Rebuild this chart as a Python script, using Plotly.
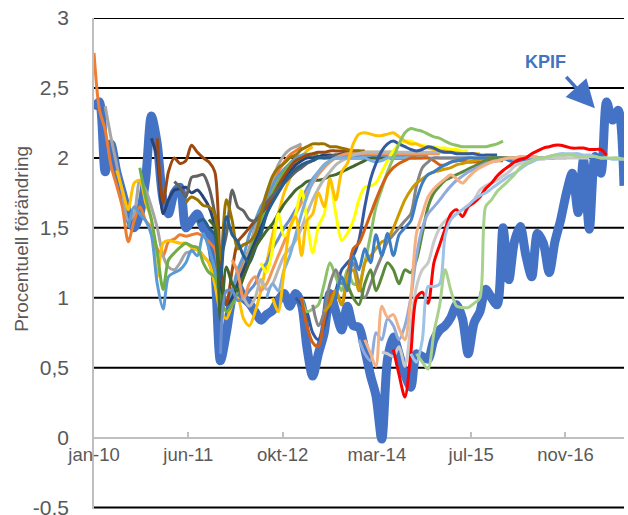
import pandas as pd
import plotly.graph_objects as go

# ---------------- data ----------------
kpif_start = "2010-01"
kpif_values = [
    2.35, 2.4, 1.9, 2.1, 1.9, 1.75, 1.6, 1.5, 1.6, 1.85,
    2.3, 2.1, 1.7, 1.6, 1.75, 1.79, 1.5, 1.55, 1.6, 1.5,
    1.45, 1.2, 0.55, 0.75, 1.0, 1.08, 1.0, 0.96, 0.9, 0.84,
    0.88, 0.91, 0.98, 1.03, 0.94, 1.03, 0.95, 0.65, 0.44, 0.6,
    0.75, 1.03, 0.9, 0.77, 0.94, 0.8, 0.79, 0.63, 0.44, 0.3,
    -0.01, 0.56, 0.72, 0.6, 0.45, 0.36, 0.6, 0.58, 0.56, 0.7,
    0.77, 0.8, 0.86, 0.95, 0.85, 0.6, 0.82, 0.9, 1.06, 1.0,
    0.95, 1.5, 1.13, 1.4, 1.51, 1.3, 1.15, 1.46, 1.39, 1.18,
    1.4, 1.56, 1.75, 1.89, 1.61, 1.99, 1.49, 2.01, 1.89, 2.4,
    2.27, 2.34, 1.8,
]

fc_starts = [
    "2010-01", "2010-03", "2010-05", "2010-07", "2010-09", "2010-11",
    "2010-12", "2011-03", "2011-05", "2011-07", "2011-09", "2011-11",
    "2012-01", "2012-03", "2012-06", "2012-07", "2012-08", "2012-12",
    "2013-01", "2013-01", "2013-03", "2013-05", "2013-07", "2013-09",
    "2013-11", "2013-12", "2014-03", "2014-05", "2014-08", "2014-09",
]

fc_colors = [
    "#ED7D31", "#A5A5A5", "#FFC000", "#5B9BD5", "#70AD47", "#264478",
    "#9E480E", "#636363", "#997300", "#255E91", "#43682B", "#698ED0",
    "#F1975A", "#B7B7B7", "#FFFF00", "#7CAFDD", "#FFC000", "#335AA1",
    "#8CC168", "#D26012", "#848484", "#CC9A00", "#3C7DC4", "#5A8A39",
    "#8FAADC", "#F4B183", "#C9C9C9", "#FF0000", "#9DC3E6", "#A9D18E",
]

fc01 = [2.75, 2.35, 2.2, 1.95, 1.8, 1.65, 1.4, 1.55, 1.65, 1.55, 1.5, 1.35, 1.3, 1.4, 1.42,
        1.45, 1.44, 1.45, 1.46, 1.44, 1.4, 1.35, 1.1, 1.0, 1.05, 1.15, 1.25, 1.35, 1.5, 1.6,
        1.7, 1.8, 1.9, 1.97, 2.02, 2.05, 2.08]
fc02 = [2.37, 2.15, 1.95, 1.75, 1.55, 1.6, 1.84, 1.77, 1.65, 1.5, 1.3, 1.22, 1.2, 1.25, 1.32,
        1.33, 1.35, 1.3, 1.25, 1.1, 0.95, 0.98, 1.05, 1.12, 1.22, 1.35, 1.5, 1.62, 1.75, 1.85,
        1.95, 2.02, 2.06, 2.08, 2.1]
fc03 = [1.91, 1.77, 1.63, 1.82, 1.84, 1.68, 1.56, 1.15, 1.39, 1.41, 1.4, 1.39, 1.39, 1.36, 1.34,
        1.3, 1.25, 1.1, 0.9, 0.85, 0.95, 1.0, 0.85, 0.8, 0.9, 1.05, 1.25, 1.45, 1.6, 1.75,
        1.85, 1.95, 2.0, 2.05, 2.08]
fc04 = [1.5, 1.65, 1.6, 1.55, 1.45, 1.1, 0.92, 1.15, 1.18, 1.2, 1.25, 1.34, 1.3, 1.46, 1.35,
        1.2, 1.0, 0.95, 1.05, 1.2, 1.3, 1.45, 1.55, 1.65, 1.72, 1.8, 1.87, 1.92, 1.96, 2.0,
        2.02, 2.03]
fc05 = [1.93, 1.72, 1.56, 1.32, 1.06, 1.27, 1.32, 1.36, 1.39, 1.37, 1.36, 1.25, 1.18, 1.15, 1.0,
        0.9, 0.95, 1.05, 1.15, 1.3, 1.45, 1.55, 1.65, 1.75, 1.83, 1.9, 1.95, 1.98, 2.0, 2.0,
        2.02, 2.02]
fc06 = [2.14, 2.0, 1.6, 1.7, 1.77, 1.78, 1.79, 1.75, 1.77, 1.72, 1.65, 1.5, 1.1, 0.95, 1.0,
        1.1, 1.2, 1.3, 1.4, 1.5, 1.6, 1.7, 1.78, 1.85, 1.9, 1.95, 1.98, 2.0, 2.0, 2.01,
        2.02, 2.02, 2.02, 2.03, 2.03, 2.03, 2.03]
fc07 = [2.14, 1.68, 1.9, 2.0, 1.96, 1.98, 2.09, 2.04, 2.0, 1.97, 1.9, 1.22, 0.95, 1.2, 1.4,
        1.45, 1.5, 1.55, 1.6, 1.65, 1.72, 1.8, 1.87, 1.93, 1.98, 2.0, 2.02, 2.03, 2.04, 2.04,
        2.05, 2.05, 2.05, 2.05, 2.05, 2.05, 2.05]
fc08 = [1.83, 1.79, 1.72, 1.86, 1.87, 1.88, 1.79, 1.6, 1.29, 1.45, 1.77, 1.65, 1.62, 1.56, 1.55,
        1.6, 1.68, 1.73, 1.78, 1.82, 1.86, 1.9, 1.93, 1.96, 1.98, 2.0, 2.0, 2.01, 2.02, 2.02,
        2.02, 2.02, 2.02, 2.03, 2.03, 2.03, 2.03]
fc09 = [1.68, 1.72, 1.7, 1.66, 1.65, 1.6, 1.27, 1.7, 1.55, 1.35, 1.38, 1.4, 1.45, 1.6, 1.75,
        1.87, 1.93, 1.96, 2.0, 2.02, 2.06, 2.08, 2.1, 2.1, 2.1, 2.08, 2.08, 2.07, 2.06, 2.05,
        2.05, 2.04, 2.04, 2.04, 2.04, 2.04, 2.04]
fc10 = [1.54, 1.56, 1.5, 1.45, 1.13, 1.58, 1.45, 1.4, 1.3, 1.25, 1.35, 1.45, 1.6, 1.68, 1.75,
        1.82, 1.88, 1.92, 1.95, 1.97, 1.98, 2.0, 2.0, 2.0, 2.0, 2.0, 2.0, 2.0, 2.0, 2.0,
        2.0, 2.0, 2.0, 2.0, 2.0, 2.0, 2.0]
fc11 = [1.56, 1.5, 0.84, 1.22, 1.1, 1.05, 1.15, 1.25, 1.36, 1.42, 1.48, 1.53, 1.6, 1.67, 1.72,
        1.77, 1.8, 1.83, 1.84, 1.84, 1.85, 1.87, 1.88, 1.9, 1.92, 1.94, 1.96, 1.98, 2.0, 2.0,
        2.0, 2.0, 2.0, 2.0, 2.0, 2.0, 2.0]
fc12 = [0.6, 1.05, 1.05, 0.98, 1.0, 1.05, 1.1, 1.2, 1.25, 1.35, 1.42, 1.5, 1.56, 1.63, 1.7,
        1.78, 1.85, 1.9, 1.95, 1.98, 2.0, 2.01, 2.02, 2.02, 2.02, 2.02, 2.02, 2.02, 2.02, 2.02,
        2.02, 2.02, 2.02, 2.02, 2.02, 2.02, 2.02]
fc13 = [1.27, 1.18, 0.99, 1.1, 1.15, 1.05, 1.1, 1.2, 1.3, 1.4, 1.5, 1.6, 1.68, 1.75, 1.82,
        1.88, 1.93, 1.97, 2.0, 2.02, 2.03, 2.03, 2.03, 2.03, 2.03, 2.03, 2.03, 2.03, 2.03, 2.03,
        2.03, 2.03, 2.03, 2.03, 2.03, 2.03, 2.03]
fc14 = [1.0, 0.94, 1.0, 1.13, 1.06, 1.1, 1.2, 1.3, 1.35, 1.41, 1.5, 1.6, 1.7, 1.78, 1.85,
        1.9, 1.95, 1.98, 2.0, 2.02, 2.03, 2.04, 2.04, 2.04, 2.04, 2.04, 2.04, 2.04, 2.04, 2.04,
        2.04, 2.04, 2.04, 2.04, 2.04, 2.04, 2.04]
fc15 = [1.25, 1.18, 1.35, 1.6, 1.44, 1.49, 1.6, 1.77, 1.56, 1.32, 1.51, 1.6, 1.84, 1.6, 1.41,
        1.46, 1.55, 1.7, 1.79, 1.8, 1.82, 1.9, 1.98, 2.05, 2.1, 2.12, 2.12, 2.1, 2.09, 2.08,
        2.08, 2.07, 2.07, 2.06, 2.06, 2.05, 2.05]
fc16 = [1.0, 1.1, 1.05, 1.2, 1.3, 1.45, 1.6, 1.72, 1.83, 1.9, 1.95, 1.98, 2.0, 2.0, 2.0,
        2.0, 2.0, 2.0, 1.98, 1.97, 1.98, 2.0, 2.0, 2.0, 2.0, 2.0, 2.0, 2.0, 2.0, 2.0,
        2.0, 2.0, 2.0, 2.0, 2.0, 2.0]
fc17 = [1.0, 0.9, 1.2, 1.5, 1.58, 1.3, 1.55, 1.6, 1.75, 1.65, 1.85, 1.7, 1.9, 1.96, 2.1,
        2.17, 2.18, 2.17, 2.16, 2.16, 2.17, 2.18, 2.15, 2.12, 2.1, 2.1, 2.08, 2.07, 2.06, 2.05,
        2.05, 2.04, 2.04, 2.03, 2.03, 2.03, 2.03]
fc18 = [1.0, 0.95, 0.9, 0.75, 0.7, 0.8, 0.95, 1.05, 1.2, 1.25, 1.3, 1.41, 1.65, 1.85, 1.96,
        2.05, 2.1, 2.12, 2.1, 2.08, 2.06, 2.05, 2.06, 2.08, 2.07, 2.05, 2.04, 2.04, 2.03, 2.03,
        2.03, 2.03, 2.02, 2.02, 2.02, 2.02]
fc19 = [1.0, 0.9, 0.92, 0.95, 1.1, 1.25, 1.15, 1.05, 1.2, 1.1, 1.1, 1.25, 1.45, 1.65, 1.78,
        1.9, 2.0, 2.1, 2.18, 2.21, 2.2, 2.19, 2.17, 2.15, 2.14, 2.12, 2.1, 2.09, 2.08, 2.08,
        2.08, 2.08, 2.08, 2.09, 2.1, 2.12]
fc20 = [1.0, 0.8, 0.68, 0.65, 0.85, 1.0, 1.05, 0.95, 1.15, 1.35, 1.39, 1.49, 1.6, 1.7, 1.8,
        1.88, 1.93, 1.96, 1.98, 2.0, 2.0, 2.0, 2.0, 1.98, 1.95, 1.95, 1.97, 1.98, 1.98, 1.97,
        1.97, 1.97, 1.98, 1.98, 1.98, 1.98]
fc21 = [0.95, 0.8, 0.9, 1.1, 1.2, 1.1, 1.15, 1.25, 1.1, 1.0, 1.1, 1.2, 1.3, 1.4, 1.45,
        1.5, 1.55, 1.6, 1.8, 1.93, 1.97, 2.0, 2.0, 2.0, 2.0, 2.0, 2.0, 2.0, 2.0, 2.0,
        2.0, 2.0, 2.0, 2.0, 2.0, 2.0, 2.0]
fc22 = [0.9, 0.95, 1.05, 0.95, 1.15, 1.2, 1.05, 1.25, 1.3, 1.35, 1.4, 1.42, 1.5, 1.6, 1.7,
        1.77, 1.82, 1.85, 1.88, 1.9, 1.91, 1.92, 1.93, 1.95, 1.96, 1.97, 1.98, 1.99, 2.0, 2.0,
        2.0, 2.0, 2.0, 2.0, 2.0, 2.0, 2.0]
fc23 = [1.0, 1.15, 1.05, 1.3, 1.2, 1.35, 1.25, 1.45, 1.3, 1.46, 1.3, 1.45, 1.5, 1.55, 1.7,
        1.82, 1.88, 1.9, 1.93, 1.95, 1.97, 1.98, 1.99, 2.0, 2.0, 2.0, 2.0, 2.0, 2.0, 2.0,
        1.98, 1.97, 1.98, 1.98, 1.99, 2.0, 2.0]
fc24 = [1.1, 1.0, 0.95, 1.1, 1.2, 1.05, 1.15, 1.25, 1.2, 1.1, 1.2, 1.18, 1.27, 1.46, 1.65,
        1.75, 1.8, 1.84, 1.86, 1.88, 1.9, 1.92, 1.94, 1.96, 1.98, 2.0, 2.0, 2.0, 2.0, 2.0,
        2.0, 2.0, 2.0, 2.0, 2.0, 2.0, 2.0]
fc25 = [0.7, 0.6, 0.55, 0.75, 0.7, 0.85, 0.8, 0.7, 0.8, 1.0, 1.3, 1.5, 1.6, 1.65, 1.7,
        1.75, 1.8, 1.84, 1.87, 1.9, 1.92, 1.94, 1.96, 1.97, 1.98, 1.99, 2.0, 2.0, 2.0, 2.0,
        2.0, 2.0, 2.0, 2.0, 2.0, 2.0, 2.0]
fc26 = [0.7, 0.6, 0.51, 0.94, 0.86, 0.88, 0.78, 0.7, 1.0, 1.46, 1.6, 1.72, 1.78, 1.82, 1.85,
        1.88, 1.85, 1.82, 1.86, 1.9, 1.93, 1.95, 1.97, 1.98, 1.99, 2.0, 2.0, 2.01, 2.01, 2.01,
        2.01]
fc27 = [0.61, 0.6, 0.58, 0.65, 0.51, 0.8, 1.08, 1.2, 1.25, 1.4, 1.5, 1.55, 1.58, 1.6, 1.63,
        1.66, 1.7, 1.77, 1.8, 1.82, 1.84, 1.87, 1.9, 1.94, 1.96, 1.97, 1.98, 1.99, 1.99, 2.0,
        2.0, 2.0, 2.0, 2.0, 2.0, 2.0, 2.0]
fc28 = [0.63, 0.45, 0.29, 0.6, 1.0, 1.04, 0.96, 1.25, 1.38, 1.49, 1.6, 1.63, 1.58, 1.65, 1.68,
        1.72, 1.78, 1.82, 1.87, 1.91, 1.94, 1.97, 1.99, 2.0, 2.03, 2.05, 2.07, 2.08, 2.09, 2.09,
        2.08, 2.07, 2.07, 2.07, 2.06, 2.06, 2.06, 2.02]
fc29 = [0.6, 0.54, 0.7, 1.08, 1.08, 1.1, 1.44, 1.56, 1.6, 1.63, 1.66, 1.7, 1.73, 1.75, 1.78,
        1.81, 1.84, 1.87, 1.89, 1.92, 1.95, 1.97, 1.99, 2.0, 2.01, 2.02, 2.03, 2.03, 2.03, 2.03,
        2.02, 2.02, 2.01, 2.0, 2.0, 1.99, 1.99, 1.99]
fc30 = [0.6, 0.54, 0.49, 0.75, 0.95, 1.2, 1.05, 0.94, 0.93, 0.93, 0.96, 1.0, 1.65, 1.7, 1.76,
        1.8, 1.84, 1.88, 1.93, 1.96, 1.98, 2.0, 2.0, 2.01, 2.02, 2.02, 2.02, 2.02, 2.01, 2.01,
        2.01, 2.01, 2.0, 2.0, 2.0, 2.0, 1.99]

fc_values = [fc01, fc02, fc03, fc04, fc05, fc06, fc07, fc08, fc09, fc10,
             fc11, fc12, fc13, fc14, fc15, fc16, fc17, fc18, fc19, fc20,
             fc21, fc22, fc23, fc24, fc25, fc26, fc27, fc28, fc29, fc30]

x_tick_dates = ["2010-01-31", "2011-06-13", "2012-10-23", "2014-03-05", "2015-07-16", "2016-11-25"]
x_tick_labels = ["jan-10", "jun-11", "okt-12", "mar-14", "jul-15", "nov-16"]
y_tick_values = [-0.5, 0, 0.5, 1, 1.5, 2, 2.5, 3]
y_tick_labels = ["-0,5", "0", "0,5", "1", "1,5", "2", "2,5", "3"]
grid_levels = [-0.5, 0.5, 1, 1.5, 2, 2.5, 3]
x_range = ["2010-01-31", "2017-09-30"]
y_range = [-0.51, 3.0]


def month_ends(start, n):
    first = pd.Timestamp(start) + pd.offsets.MonthEnd(0)
    return pd.date_range(first, periods=n, freq=pd.offsets.MonthEnd()).strftime("%Y-%m-%d").tolist()


FONT = "Liberation Sans, Arial, sans-serif"
TXT = "#595959"

fig = go.Figure()

fig.add_trace(go.Scatter(
    x=month_ends(kpif_start, len(kpif_values)), y=kpif_values, mode="lines",
    line=dict(color="#4472C4", width=9, shape="spline", smoothing=0.8),
    name="KPIF", hoverinfo="skip"))

for start, vals, col in zip(fc_starts, fc_values, fc_colors):
    fig.add_trace(go.Scatter(
        x=month_ends(start, len(vals)), y=vals, mode="lines",
        line=dict(color=col, width=3, shape="spline", smoothing=0.8),
        hoverinfo="skip"))

for g in grid_levels:
    fig.add_shape(type="line", xref="paper", x0=0, x1=1, yref="y", y0=g, y1=g,
                  line=dict(color="#000000", width=2), layer="below")

fig.add_annotation(text="Procentuell förändring", textangle=-90, showarrow=False,
                   xref="paper", yref="paper", x=-0.136, y=0.55,
                   xanchor="center", yanchor="middle",
                   font=dict(family=FONT, size=19, color=TXT))

fig.add_annotation(text="<b>KPIF</b>", showarrow=False, xref="paper", yref="paper",
                   x=0.851, y=0.91, xanchor="center", yanchor="middle",
                   font=dict(family=FONT, size=18, color="#4472C4"))
fig.add_annotation(text="", showarrow=True, xref="paper", yref="paper",
                   x=0.945, y=0.816, ax=-30, ay=-33,
                   arrowhead=2, arrowsize=1.6, arrowwidth=3.5, arrowcolor="#4472C4")

fig.update_layout(
    width=628, height=515,
    margin=dict(l=94, r=4, t=18, b=6, autoexpand=False),
    paper_bgcolor="white", plot_bgcolor="white",
    showlegend=False,
    font=dict(family=FONT, color=TXT),
    xaxis=dict(type="date", range=x_range, tickmode="array",
               tickvals=x_tick_dates, ticktext=x_tick_labels,
               showgrid=False, zeroline=False, showline=True,
               linecolor="#BFBFBF", linewidth=1.5,
               anchor="free", position=0.51 / 3.51,
               ticks="inside", ticklen=5, tickwidth=1.5, tickcolor="#BFBFBF",
               ticklabeloverflow="allow", automargin=False,
               tickfont=dict(family=FONT, size=18.5, color=TXT),
               layer="below traces"),
    yaxis=dict(range=y_range, tickmode="array", tickvals=y_tick_values,
               ticktext=y_tick_labels, showgrid=False, zeroline=False,
               showline=True, linecolor="#BFBFBF", linewidth=1.5,
               ticks="", ticklabelstandoff=19, ticklabeloverflow="allow",
               automargin=False,
               tickfont=dict(family=FONT, size=21, color=TXT),
               layer="below traces"),
)

fig.write_html("out.html", config={"displayModeBar": False},
               post_script="document.body.style.margin='0';document.body.style.overflow='hidden';")
